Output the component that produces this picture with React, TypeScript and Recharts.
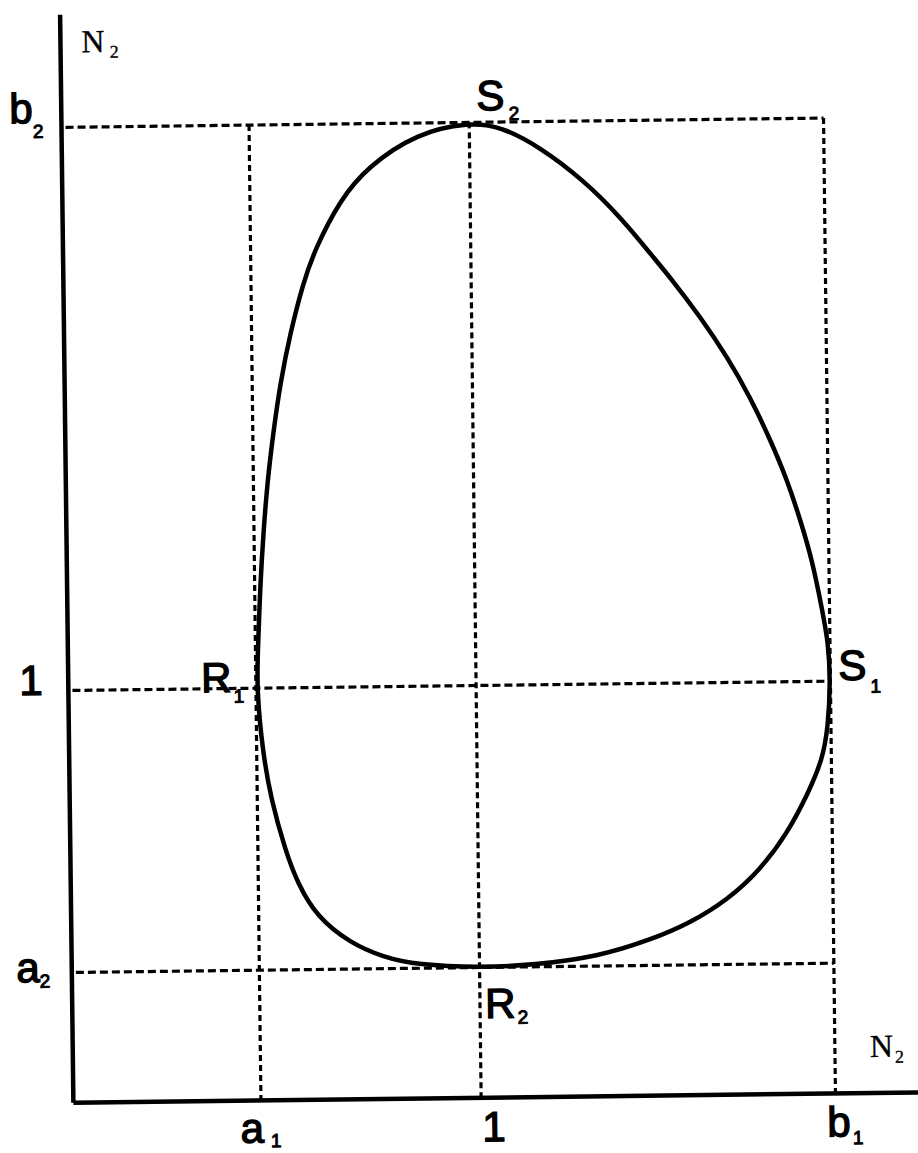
import React from 'react';
import { LineChart, Line, XAxis, YAxis, ReferenceLine, ReferenceDot } from 'recharts';

// Characteristic values
const A1 = 0.46;
const B1 = 1.869;
const A2 = 0.316;
const B2 = 2.366;
const X_MAX = 2.087;
const Y_MAX = 2.639;

// Closed orbit, traced clockwise from S2 (closed by the curve itself)
const ORBIT_X = [1.0, 1.076, 1.173, 1.278, 1.368, 1.447, 1.493, 1.561, 1.626, 1.681, 1.729, 1.769, 1.8, 1.828, 1.851, 1.865, 1.869, 1.862, 1.847, 1.809, 1.759, 1.691, 1.609, 1.518, 1.42, 1.296, 1.132, 1.0, 0.847, 0.764, 0.684, 0.603, 0.556, 0.527, 0.494, 0.474, 0.462, 0.466, 0.474, 0.483, 0.494, 0.51, 0.529, 0.555, 0.588, 0.617, 0.681, 0.749, 0.872];
const ORBIT_Y = [2.366, 2.356, 2.304, 2.223, 2.132, 2.034, 1.978, 1.887, 1.789, 1.691, 1.587, 1.489, 1.392, 1.294, 1.173, 1.093, 1.0, 0.889, 0.809, 0.725, 0.633, 0.544, 0.472, 0.418, 0.378, 0.34, 0.32, 0.316, 0.324, 0.344, 0.379, 0.443, 0.526, 0.607, 0.728, 0.85, 1.0, 1.093, 1.255, 1.376, 1.497, 1.618, 1.74, 1.861, 1.981, 2.061, 2.182, 2.261, 2.342];

// Tick labels
const X_TICKS = [A1, 1, B1];
const X_TICK_MAIN = ['a', '1', 'b'];
const X_TICK_SUB = ['1', '', '1'];
const Y_TICKS = [A2, 1, B2];
const Y_TICK_MAIN = ['a', '1', 'b'];
const Y_TICK_SUB = ['2', '', '2'];

// Named points
const POINT_X = [1, B1, A1, 1];
const POINT_Y = [B2, 1, 1, A2];
const POINT_MAIN = ['S', 'S', 'R', 'R'];
const POINT_SUB = ['2', '1', '1', '2'];

// Axis titles
const AXIS_TITLE_MAIN = ['N', 'N'];
const AXIS_TITLE_SUB = ['2', '2'];

const data = ORBIT_X.map((x, i) => ({ x, y: ORBIT_Y[i] }));

const SANS = "'Liberation Sans', Arial, Helvetica, sans-serif";
const SERIF = "'Liberation Serif', 'Times New Roman', serif";

// label offsets: [dx, dy, subDx, subDy]
const X_TICK_OFF = [[-20.8, 42, 7, 5], [0.9, 43.4, 0, 0], [-8.5, 43, 2, 8]];
const Y_TICK_OFF = [[-55.5, 9, 0, 6], [-49, 4, 0, 0], [-52, -4.8, 0, 15]];
const POINT_OFF = [[7.5, -12, 4, 10], [8, -1, 4, 13], [-54.6, 3.3, 2, 11], [5.2, 50.7, 2, 6]];
const TITLE_OFF = [[21, 37.6, 5, 6], [-54, -36, 2, 6]];

function Glyph({ x, y, main, sub, off, serif }: any) {
  return (
    <text
      x={x + off[0]}
      y={y + off[1]}
      fontFamily={serif ? SERIF : SANS}
      fontSize={serif ? 32 : 42}
      fill="#000"
      stroke="#000"
      strokeWidth={serif ? 0.3 : 1.4}
    >
      {main}
      {sub ? (
        <tspan dx={off[2]} dy={off[3]} fontSize={serif ? 18 : 19} strokeWidth={serif ? 0.3 : 1}>
          {sub}
        </tspan>
      ) : null}
    </text>
  );
}

const XTick = (props: any) => {
  const i = props.index;
  return <Glyph x={props.x} y={props.y} main={X_TICK_MAIN[i]} sub={X_TICK_SUB[i]} off={X_TICK_OFF[i]} />;
};

const YTick = (props: any) => {
  const i = props.index;
  return <Glyph x={props.x} y={props.y} main={Y_TICK_MAIN[i]} sub={Y_TICK_SUB[i]} off={Y_TICK_OFF[i]} />;
};

const DASH_H = '8 4';
const DASH_V = '6 4';
const DASH_STYLE = { stroke: '#000', strokeWidth: 3.2 };

export default function App() {
  return (
    <div
      style={{
        position: 'fixed',
        left: 0,
        top: 0,
        width: 918,
        height: 1153,
        overflow: 'hidden',
        background: '#fff',
      }}
    >
      <div style={{ width: 918, height: 1153, transform: 'rotate(-0.7deg)', transformOrigin: '459px 576.5px' }}>
        <LineChart width={918} height={1153} data={data} margin={{ top: 10, right: 0, bottom: 0, left: 0 }}>
          <XAxis
            dataKey="x"
            type="number"
            domain={[0, X_MAX]}
            ticks={X_TICKS}
            interval={0}
            height={55}
            tickSize={0}
            tickMargin={0}
            tickLine={false}
            axisLine={{ stroke: '#000', strokeWidth: 4.5 }}
            tick={<XTick />}
            allowDataOverflow
          />
          <YAxis
            dataKey="y"
            type="number"
            domain={[0, Y_MAX]}
            ticks={Y_TICKS}
            interval={0}
            width={67}
            tickSize={0}
            tickMargin={0}
            tickLine={false}
            axisLine={{ stroke: '#000', strokeWidth: 4.5 }}
            tick={<YTick />}
            allowDataOverflow
          />
          <ReferenceLine segment={[{ x: 0.01, y: B2 }, { x: B1, y: B2 }]} strokeDasharray={DASH_H} {...DASH_STYLE} />
          <ReferenceLine segment={[{ x: 0.01, y: 1 }, { x: B1, y: 1 }]} strokeDasharray={DASH_H} {...DASH_STYLE} />
          <ReferenceLine segment={[{ x: 0.01, y: A2 }, { x: B1, y: A2 }]} strokeDasharray={DASH_H} {...DASH_STYLE} />
          <ReferenceLine segment={[{ x: A1, y: B2 }, { x: A1, y: 0 }]} strokeDasharray={DASH_V} {...DASH_STYLE} />
          <ReferenceLine segment={[{ x: 1, y: B2 }, { x: 1, y: 0 }]} strokeDasharray={DASH_V} {...DASH_STYLE} />
          <ReferenceLine segment={[{ x: B1, y: B2 }, { x: B1, y: 0 }]} strokeDasharray={DASH_V} {...DASH_STYLE} />
          <Line
            dataKey="y"
            type="basisClosed"
            stroke="#000"
            strokeWidth={4.5}
            dot={false}
            activeDot={false}
            isAnimationActive={false}
          />
          {POINT_X.map((px, i) => (
            <ReferenceDot
              key={'p' + i}
              x={px}
              y={POINT_Y[i]}
              r={0}
              shape={(p: any) => (
                <Glyph x={p.cx} y={p.cy} main={POINT_MAIN[i]} sub={POINT_SUB[i]} off={POINT_OFF[i]} />
              )}
            />
          ))}
          <ReferenceDot
            x={0}
            y={Y_MAX}
            r={0}
            shape={(p: any) => (
              <Glyph x={p.cx} y={p.cy} main={AXIS_TITLE_MAIN[0]} sub={AXIS_TITLE_SUB[0]} off={TITLE_OFF[0]} serif />
            )}
          />
          <ReferenceDot
            x={X_MAX}
            y={0}
            r={0}
            shape={(p: any) => (
              <Glyph x={p.cx} y={p.cy} main={AXIS_TITLE_MAIN[1]} sub={AXIS_TITLE_SUB[1]} off={TITLE_OFF[1]} serif />
            )}
          />
        </LineChart>
      </div>
    </div>
  );
}
